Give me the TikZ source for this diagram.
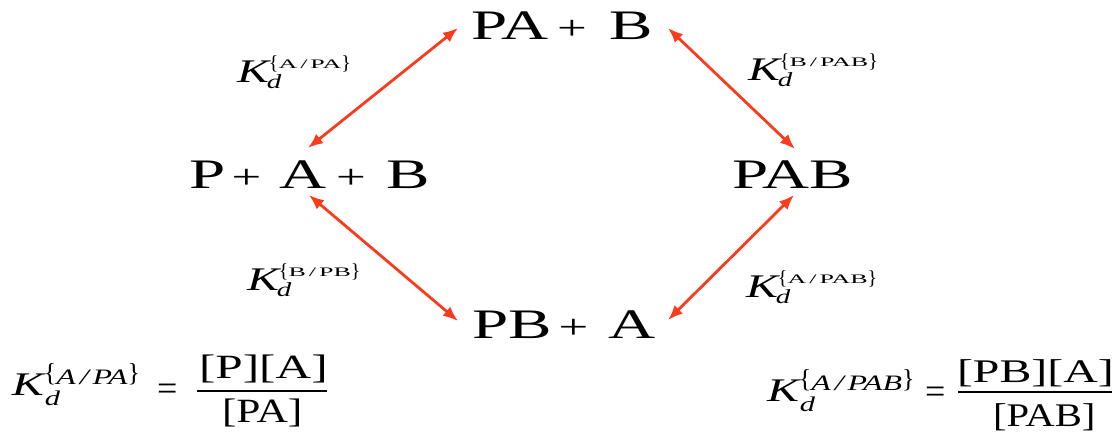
\documentclass[tikz,border=0pt]{standalone}
\usepackage{fontspec}
\setmainfont{Liberation Serif}[FakeStretch=1.45]
\newfontfamily\plainserif{Liberation Serif}
\newfontfamily\specfont{Liberation Serif}[FakeStretch=1.55]
\newfontfamily\supfont{Liberation Serif}[FakeStretch=2.0]
\usetikzlibrary{arrows.meta}
\definecolor{arrowred}{RGB}{250,60,30}
\newcommand{\fs}[1]{\fontsize{#1}{#1}\selectfont}
\newcommand{\pls}{{\fs{34}+}}
\newcommand{\eqsign}{{\plainserif\fs{36}=}}
\newcommand{\KdUp}[1]{{\fs{33}\itshape K}\makebox[0pt][l]{\hspace{-2pt}\raisebox{-6pt}{\fs{20}\itshape d}}\raisebox{13pt}{\plainserif\fs{20}\{}\raisebox{14pt}{\supfont\fs{13}#1}\raisebox{13pt}{\plainserif\fs{20}\}}}
\newcommand{\KdLow}[1]{{\fs{33}\itshape K}\makebox[0pt][l]{\hspace{1pt}\raisebox{-10pt}{\fs{21}\itshape d}}\raisebox{14pt}{\plainserif\fs{26}\{}\raisebox{11pt}{\fs{22}\itshape #1}\raisebox{14pt}{\plainserif\fs{26}\}}}
\begin{document}
\begin{tikzpicture}[x=1pt,y=-1pt,
  lbl/.style={inner sep=0pt, outer sep=0pt, anchor=base west},
  species/.style={lbl, font=\specfont\fs{42}},
  equil/.style={draw=arrowred, line width=2.8pt, {Latex[length=15pt,width=12pt]}-{Latex[length=15pt,width=12pt]}},
  fracbar/.style={draw=black, line width=1.6pt}]
\useasboundingbox (0,0) rectangle (1115,431);
% species
\node[species] (top) at (471,39) {PA\hspace{9pt}\pls\hspace{22.8pt}B};
\node[species] (left) at (189,188) {P\hspace{6.3pt}\pls\hspace{18.3pt}A\hspace{9.5pt}\pls\hspace{20.3pt}B};
\node[species] (right) at (732,188) {PAB};
\node[species] (bottom) at (472,338) {PB\hspace{7pt}\pls\hspace{20pt}A};
% arrow ends
\coordinate (topW) at (458,28);
\coordinate (topE) at (668,28);
\coordinate (leftN) at (308,148);
\coordinate (leftS) at (309,195);
\coordinate (rightN) at (795,149);
\coordinate (rightS) at (794,195);
\coordinate (botW) at (458,321);
\coordinate (botE) at (668,320);
\draw[equil] (topW) -- (leftN);
\draw[equil] (topE) -- (rightN);
\draw[equil] (leftS) -- (botW);
\draw[equil] (rightS) -- (botE);
% constants
\node[lbl] (k1) at (237,82) {\KdUp{A\hspace{3pt}/\hspace{3pt}PA}};
\node[lbl] (k2) at (748,80) {\KdUp{B\hspace{3pt}/\hspace{3pt}PAB}};
\node[lbl] (k3) at (247,290) {\KdUp{B\hspace{3pt}/\hspace{3pt}PB}};
\node[lbl] (k4) at (746,297) {\KdUp{A\hspace{3pt}/\hspace{3pt}PAB}};
% left equation
\node[lbl] (kl) at (12,395) {\KdLow{A\hspace{4pt}/\hspace{4pt}PA}};
\node[lbl] (eql) at (157,400) {\eqsign};
\node[lbl] (numl) at (199,378) {\fs{34}[P][A]};
\node[lbl] (denl) at (222,422) {\scalebox{0.88}[1]{\fs{34}[PA]}};
\coordinate (fl1) at (197,391);
\coordinate (fl2) at (327,391);
\draw[fracbar] (fl1) -- (fl2);
% right equation
\node[lbl] (kr) at (767,401) {\KdLow{A\hspace{4pt}/\hspace{4pt}PAB}};
\node[lbl] (eqr) at (925,403) {\eqsign};
\node[lbl] (numr) at (957,382) {\fs{33}[PB][A]};
\node[lbl] (denr) at (993,426) {\scalebox{0.85}[1]{\fs{33}[PAB]}};
\coordinate (fr1) at (958,392);
\coordinate (fr2) at (1112,392);
\draw[fracbar] (fr1) -- (fr2);
\end{tikzpicture}
\end{document}
